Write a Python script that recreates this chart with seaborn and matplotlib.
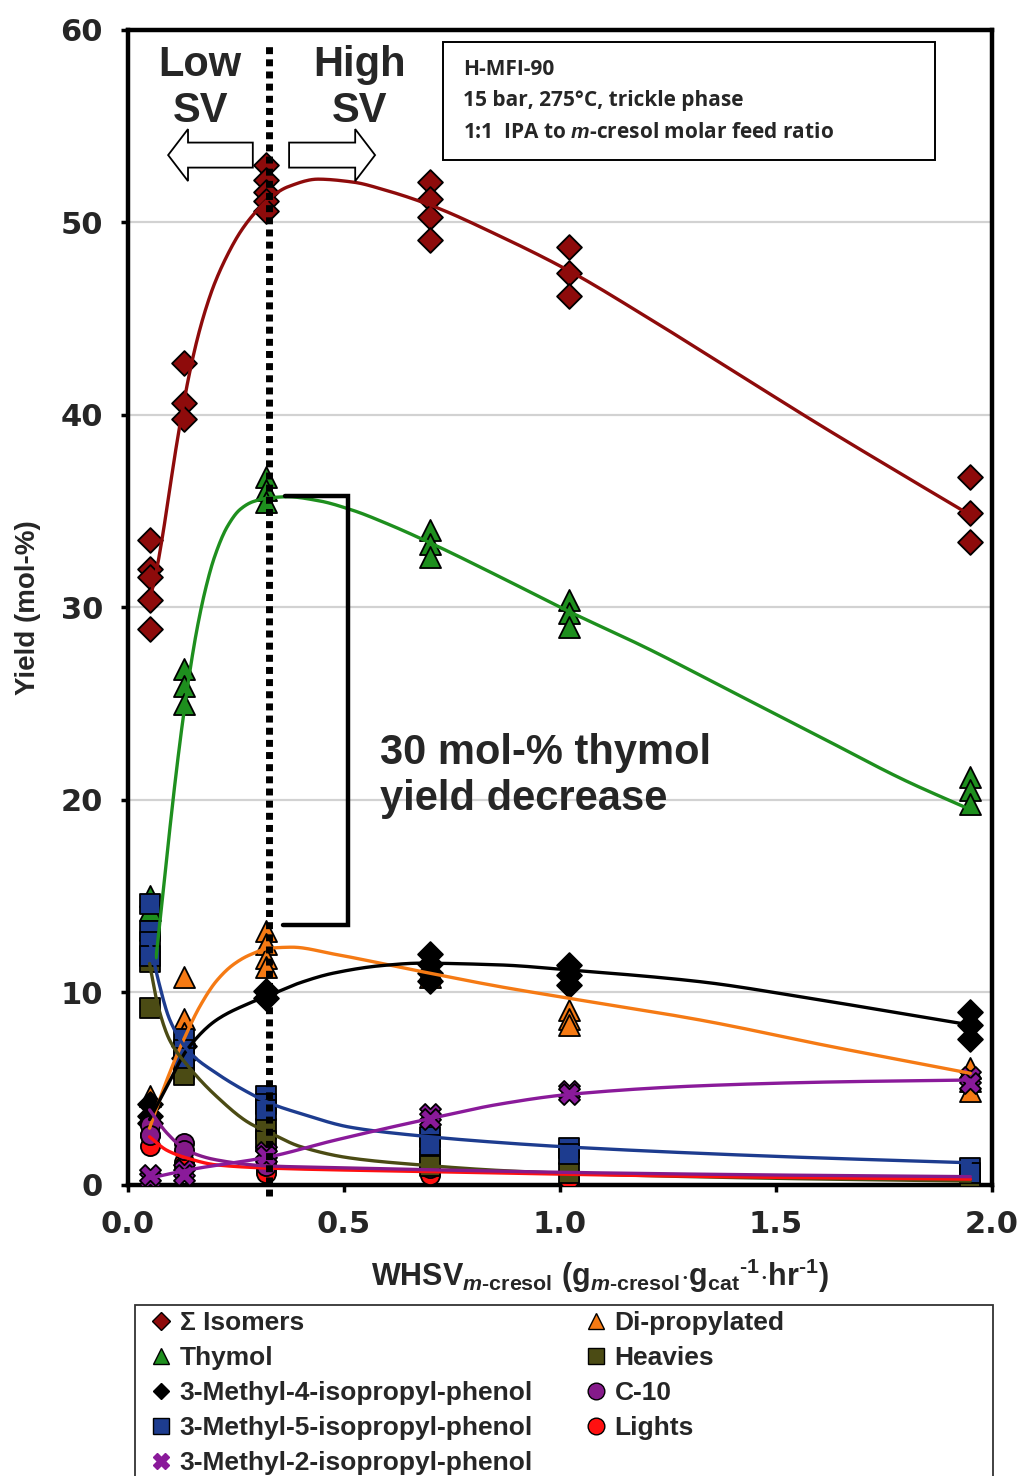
import numpy as np
import pandas as pd
import matplotlib
matplotlib.use("Agg")
import matplotlib.pyplot as plt
import matplotlib.patches as mpatches
from matplotlib.lines import Line2D
import seaborn as sns

# ---- measured yields (mol-%) vs WHSV (g m-cresol / g cat / h) ----
isomers_x = [0.05] * 5 + [0.13] * 3 + [0.32] * 5 + [0.70] * 4 + [1.02] * 3 + [1.95] * 3
isomers_y = [33.5, 32.0, 31.6, 30.4, 28.9, 42.7, 40.6, 39.8,
             53.0, 52.2, 51.6, 51.1, 50.6, 52.1, 51.2, 50.3, 49.1,
             48.7, 47.4, 46.2, 36.8, 34.9, 33.4]

thymol_x = [0.05] * 2 + [0.13] * 3 + [0.32] * 3 + [0.70] * 3 + [1.02] * 3 + [1.95] * 3
thymol_y = [15.0, 14.3, 26.8, 25.9, 25.0, 36.8, 36.1, 35.5,
            34.0, 33.3, 32.6, 30.4, 29.7, 29.0, 21.2, 20.5, 19.8]

dipropyl_x = [0.05] * 2 + [0.13] * 3 + [0.32] * 4 + [0.70] * 2 + [1.02] * 3 + [1.95] * 3
dipropyl_y = [4.6, 3.8, 10.8, 8.6, 7.9, 13.2, 12.5, 11.8, 11.3,
              11.2, 10.8, 9.1, 8.6, 8.3, 6.1, 5.4, 4.9]

m4_x = [0.05] * 3 + [0.13] * 2 + [0.32] * 2 + [0.70] * 4 + [1.02] * 3 + [1.95] * 3
m4_y = [4.2, 3.6, 3.2, 7.2, 6.6, 10.1, 9.7, 12.0, 11.5, 11.0, 10.6,
        11.4, 10.9, 10.4, 9.0, 8.3, 7.6]

m5_x = [0.05] * 4 + [0.13] * 3 + [0.32] * 3 + [0.70] * 2 + [1.02] * 2 + [1.95] * 2
m5_y = [14.6, 13.2, 12.6, 11.9, 7.6, 7.0, 6.6, 4.6, 4.2, 3.9, 2.5, 2.1, 1.9, 1.6, 0.9, 0.6]

m2_x = [0.05] * 2 + [0.13] * 2 + [0.32] * 2 + [0.70] * 2 + [1.02] * 2 + [1.95] * 2
m2_y = [0.3, 0.5, 0.8, 0.5, 1.7, 1.5, 3.7, 3.4, 4.9, 4.7, 5.6, 5.3]

heavies_x = [0.05] * 2 + [0.13] * 2 + [0.32] * 2 + [0.70] * 2 + [1.02] + [1.95]
heavies_y = [11.6, 9.2, 6.0, 5.7, 2.9, 2.3, 1.3, 1.0, 0.6, 0.3]

c10_x = [0.05] * 2 + [0.13] * 2 + [0.32] * 2 + [0.70] + [1.02] + [1.95]
c10_y = [3.1, 2.6, 2.2, 1.8, 1.2, 1.0, 0.9, 0.6, 0.4]

lights_x = [0.05] * 2 + [0.13] * 2 + [0.32] * 2 + [0.70] + [1.02] + [1.95]
lights_y = [2.6, 2.0, 1.2, 1.0, 0.8, 0.6, 0.5, 0.3, 0.3]

# ---- trend curves (knots of the smoothed model lines) ----
isomers_fit_x = [0.05, 0.065, 0.08, 0.095, 0.11, 0.125, 0.14, 0.16, 0.18, 0.20, 0.23, 0.26,
                 0.29, 0.33, 0.37, 0.44, 0.52, 0.60, 0.70, 0.86, 1.02, 1.20, 1.40, 1.60,
                 1.80, 1.95]
isomers_fit_y = [30.3, 31.8, 33.7, 35.9, 38.1, 40.1, 41.9, 43.9, 45.5, 46.8, 48.3, 49.5,
                 50.4, 51.3, 51.85, 52.25, 52.1, 51.65, 50.9, 49.3, 47.5, 45.1, 42.3, 39.5,
                 36.8, 34.8]

thymol_fit_x = [0.065, 0.08, 0.095, 0.11, 0.125, 0.14, 0.16, 0.18, 0.20, 0.23, 0.26, 0.29,
                0.33, 0.37, 0.44, 0.52, 0.60, 0.70, 0.86, 1.02, 1.20, 1.40, 1.60, 1.80, 1.95]
thymol_fit_y = [11.8, 14.9, 18.1, 21.1, 23.8, 26.2, 28.9, 31.0, 32.6, 34.2, 35.1, 35.5,
                35.7, 35.75, 35.55, 35.05, 34.35, 33.35, 31.6, 29.8, 27.9, 25.6, 23.3, 21.0, 19.5]

dipropyl_fit_x = [0.05, 0.09, 0.128, 0.167, 0.205, 0.244, 0.282, 0.329, 0.38, 0.475,
                  0.676, 0.861, 1.02, 1.324, 1.63, 1.95]
dipropyl_fit_y = [2.95, 5.45, 7.5, 9.3, 10.6, 11.45, 11.95, 12.3, 12.35, 12.0,
                  11.1, 10.3, 9.7, 8.57, 7.18, 5.8]

m4_fit_x = [0.05, 0.09, 0.136, 0.205, 0.282, 0.329, 0.398, 0.475, 0.59, 0.676,
            0.861, 1.02, 1.324, 1.556, 1.787, 1.95]
m4_fit_y = [3.4, 5.1, 7.0, 8.57, 9.45, 9.87, 10.5, 11.0, 11.4, 11.52,
            11.43, 11.17, 10.56, 9.78, 8.92, 8.31]

m5_fit_x = [0.05, 0.07, 0.097, 0.14, 0.205, 0.282, 0.329, 0.398, 0.514, 0.676,
            0.861, 1.02, 1.48, 1.95]
m5_fit_y = [12.7, 10.65, 8.57, 6.95, 5.8, 4.76, 4.24, 3.72, 3.0, 2.55,
            2.2, 1.97, 1.5, 1.15]

heavies_fit_x = [0.05, 0.07, 0.097, 0.14, 0.205, 0.282, 0.329, 0.398, 0.514, 0.676,
                 0.861, 1.02, 1.48, 1.95]
heavies_fit_y = [11.5, 9.26, 7.5, 6.15, 4.6, 3.2, 2.7, 2.0, 1.4, 1.04,
                 0.75, 0.6, 0.35, 0.2]

m2_fit_x = [0.05, 0.14, 0.329, 0.475, 0.70, 0.861, 1.02, 1.324, 1.63, 1.95]
m2_fit_y = [0.35, 0.78, 1.47, 2.3, 3.45, 4.2, 4.7, 5.15, 5.35, 5.45]

c10_fit_x = [0.05, 0.09, 0.136, 0.205, 0.32, 0.475, 0.676, 1.02, 1.48, 1.95]
c10_fit_y = [3.9, 2.7, 1.8, 1.3, 0.99, 0.9, 0.8, 0.65, 0.52, 0.43]

lights_fit_x = [0.05, 0.09, 0.136, 0.205, 0.32, 0.676, 1.02, 1.48, 1.95]
lights_fit_y = [2.5, 1.8, 1.4, 1.04, 0.88, 0.7, 0.55, 0.4, 0.3]

x_ticks = [0.0, 0.5, 1.0, 1.5, 2.0]
y_ticks = [0, 10, 20, 30, 40, 50, 60]


def smooth_path(xs, ys, n=20):
    """Shape-preserving cubic (PCHIP-style) rendering of a knot sequence."""
    x = np.asarray(xs, float)
    y = np.asarray(ys, float)
    h = np.diff(x)
    d = np.diff(y) / h
    m = np.zeros_like(y)
    for k in range(1, len(x) - 1):
        if d[k - 1] * d[k] > 0:
            w1 = 2 * h[k] + h[k - 1]
            w2 = h[k] + 2 * h[k - 1]
            m[k] = (w1 + w2) / (w1 / d[k - 1] + w2 / d[k])
    m[0] = d[0]
    m[-1] = d[-1]
    px, py = [], []
    t = np.linspace(0, 1, n, endpoint=False)
    for k in range(len(x) - 1):
        h00 = 2 * t ** 3 - 3 * t ** 2 + 1
        h10 = t ** 3 - 2 * t ** 2 + t
        h01 = -2 * t ** 3 + 3 * t ** 2
        h11 = t ** 3 - t ** 2
        px.append(x[k] + t * h[k])
        py.append(h00 * y[k] + h10 * h[k] * m[k] + h01 * y[k + 1] + h11 * h[k] * m[k + 1])
    px.append([x[-1]])
    py.append([y[-1]])
    return np.concatenate(px), np.concatenate(py)


sns.set_theme(style="white")
plt.rcParams["font.family"] = ["Liberation Sans", "DejaVu Sans"]
plt.rcParams["font.weight"] = "bold"
plt.rcParams["mathtext.fontset"] = "custom"
plt.rcParams["mathtext.rm"] = "Liberation Sans:bold"
plt.rcParams["mathtext.bf"] = "Liberation Sans:bold"
plt.rcParams["mathtext.it"] = "Liberation Sans:bold:italic"

fig = plt.figure(figsize=(10.18, 14.76), dpi=100)
ax = fig.add_axes([0.1257, 0.1972, 0.8487, 0.7825])

C_ISO = "#8e0b0b"
C_THY = "#1e8f1e"
C_DIP = "#f57a14"
C_M4 = "#000000"
C_M5 = "#1d3c8f"
C_HEA = "#4b4b14"
C_C10 = "#851a8a"
C_LIG = "#ff1010"
C_M2 = "#8a1a9a"

series = [
    # x, y, marker, size, color
    (isomers_x, isomers_y, "D", 160, C_ISO),
    (thymol_x, thymol_y, "^", 230, C_THY),
    (dipropyl_x, dipropyl_y, "^", 230, C_DIP),
    (m4_x, m4_y, "D", 160, C_M4),
    (lights_x, lights_y, "o", 190, C_LIG),
    (c10_x, c10_y, "o", 190, C_C10),
    (heavies_x, heavies_y, "s", 190, C_HEA),
    (m5_x, m5_y, "s", 190, C_M5),
    (m2_x, m2_y, "X", 230, C_M2),
]
for xs, ys, mk, sz, col in series:
    sns.scatterplot(x=xs, y=ys, ax=ax, marker=mk, s=sz, color=col,
                    edgecolor="black", linewidth=1.3, zorder=3, legend=False)

curves = [
    (isomers_fit_x, isomers_fit_y, C_ISO),
    (thymol_fit_x, thymol_fit_y, C_THY),
    (dipropyl_fit_x, dipropyl_fit_y, C_DIP),
    (m4_fit_x, m4_fit_y, C_M4),
    (heavies_fit_x, heavies_fit_y, C_HEA),
    (m5_fit_x, m5_fit_y, C_M5),
    (lights_fit_x, lights_fit_y, C_LIG),
    (c10_fit_x, c10_fit_y, C_C10),
    (m2_fit_x, m2_fit_y, C_M2),
]
for fx, fy, col in curves:
    sx, sy = smooth_path(fx, fy)
    sns.lineplot(x=sx, y=sy, ax=ax, color=col, linewidth=2.4, sort=False,
                 estimator=None, zorder=4)

# axes styling
ax.set_xlim(0, 2.0)
ax.set_ylim(0, 60)
ax.set_xticks(x_ticks)
ax.set_xticklabels([f"{v:.1f}" for v in x_ticks])
ax.set_yticks(y_ticks)
ax.set_yticklabels([str(v) for v in y_ticks])
for lab in ax.get_xticklabels() + ax.get_yticklabels():
    lab.set_fontfamily("DejaVu Sans")
    lab.set_fontweight("bold")
    lab.set_fontsize(22)
ax.tick_params(axis="both", direction="out", length=5, width=2.5, color="black",
               bottom=True, left=True, pad=13)
ax.yaxis.grid(True, color="#d2d2d2", linewidth=1.6)
ax.xaxis.grid(False)
ax.set_axisbelow(True)
for sp in ax.spines.values():
    sp.set_color("black")
    sp.set_linewidth(3.2)

HY = "\u2010"
ax.set_ylabel("Yield (mol-%)", fontsize=20, fontweight="bold", labelpad=14)
ax.set_xlabel(r"WHSV$_{\mathit{m}\mathrm{" + HY + r"cresol}}$ (g$_{\mathit{m}\mathrm{" + HY +
              r"cresol}}$$\cdot$g$_{\mathrm{cat}}$$^{\mathrm{" + HY + r"1}}$$\cdot$hr$^{\mathrm{" +
              HY + r"1}}$)", fontsize=22, fontweight="bold")
ax.xaxis.set_label_coords(0.546, -0.062)

# low / high space-velocity divider
ax.plot([0.326, 0.326], [-0.6, 59.4], color="black", linewidth=5,
        linestyle=(0, (1, 0.75)), dash_capstyle="butt", zorder=5, clip_on=False)
ax.text(0.167, 57.0, "Low\nSV", ha="center", va="center", fontsize=30,
        fontweight="bold", linespacing=1.18, zorder=6)
ax.text(0.536, 57.0, "High\nSV", ha="center", va="center", fontsize=30,
        fontweight="bold", linespacing=1.18, zorder=6)
for x0, dx in [(0.289, -0.196), (0.373, 0.199)]:
    ax.add_patch(mpatches.FancyArrow(x0, 53.5, dx, 0, width=1.3, head_width=2.7,
                                     head_length=0.046, length_includes_head=True,
                                     facecolor="white", edgecolor="black",
                                     linewidth=1.3, zorder=6))

# operating conditions box
ax.add_patch(mpatches.Rectangle((0.729, 53.25), 1.139, 6.13, facecolor="white",
                                edgecolor="black", linewidth=1.4, zorder=6))
cond_lines = ["H-MFI-90", "15 bar, 275°C, trickle phase",
              r"1:1  IPA to $\mathit{m}$-cresol molar feed ratio"]
for i, line in enumerate(cond_lines):
    ax.text(0.775, 57.97 - i * 1.66, line, ha="left", va="center", fontsize=15,
            fontweight="bold", family=["Open Sans", "DejaVu Sans"], zorder=7)

# thymol loss bracket
ax.plot([0.363, 0.509, 0.509, 0.36], [35.8, 35.8, 13.5, 13.5], color="black",
        linewidth=3.2, solid_joinstyle="miter", zorder=5)
ax.text(0.583, 21.25, "30 mol-% thymol\nyield decrease", ha="left", va="center",
        fontsize=30, fontweight="bold", linespacing=1.2, zorder=6)

# legend
handles = [
    Line2D([], [], linestyle="none", marker="D", markersize=9, color=C_ISO, markeredgecolor="black"),
    Line2D([], [], linestyle="none", marker="^", markersize=11, color=C_THY, markeredgecolor="black"),
    Line2D([], [], linestyle="none", marker="D", markersize=8, color=C_M4, markeredgecolor="black"),
    Line2D([], [], linestyle="none", marker="s", markersize=11, color=C_M5, markeredgecolor="black"),
    Line2D([], [], linestyle="none", marker="X", markersize=11, color=C_M2, markeredgecolor=C_M2),
    Line2D([], [], linestyle="none", marker="^", markersize=11, color=C_DIP, markeredgecolor="black"),
    Line2D([], [], linestyle="none", marker="s", markersize=11, color=C_HEA, markeredgecolor="black"),
    Line2D([], [], linestyle="none", marker="o", markersize=12, color=C_C10, markeredgecolor="black"),
    Line2D([], [], linestyle="none", marker="o", markersize=12, color=C_LIG, markeredgecolor="black"),
]
labels = ["Σ Isomers", "Thymol", "3-Methyl-4-isopropyl-phenol",
          "3-Methyl-5-isopropyl-phenol", "3-Methyl-2-isopropyl-phenol",
          "Di-propylated", "Heavies", "C-10", "Lights"]
fig.legend(handles, labels, loc="upper left", bbox_to_anchor=(0.148, 1 - 1311 / 1476),
           ncol=2, frameon=False, fontsize=19, handlelength=0.8, handletextpad=0.3,
           columnspacing=2.0, labelspacing=0.42, borderpad=0, borderaxespad=0)
fig.patches.append(mpatches.Rectangle((135 / 1018, -0.02), (993 - 135) / 1018,
                                      (1 - 1305 / 1476) + 0.02, transform=fig.transFigure,
                                      facecolor="none", edgecolor="#333333", linewidth=1.3))

fig.savefig("out.png", dpi=100)
